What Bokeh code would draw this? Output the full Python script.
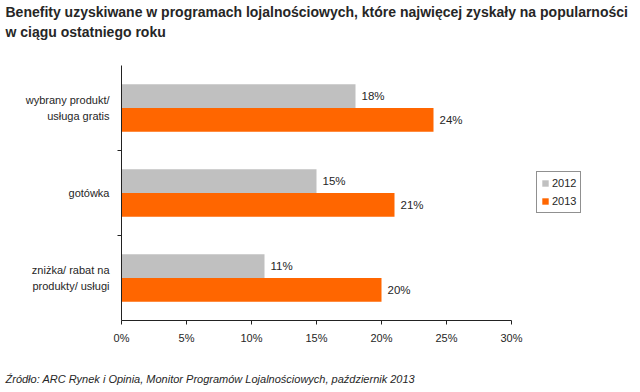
from bokeh.plotting import figure
from bokeh.models import Range1d, FixedTicker, Title, Legend, LegendItem, ColumnDataSource
from bokeh.transform import dodge
from bokeh.embed import file_html
from bokeh.resources import INLINE
from bokeh.core.properties import value

title_line1 = "Benefity uzyskiwane w programach lojalnościowych, które najwięcej zyskały na popularności"
title_line2 = "w ciągu ostatniego roku"
source_text = "Źródło: ARC Rynek i Opinia, Monitor Programów Lojalnościowych, październik 2013"

categories = ["zniżka/ rabat na\nprodukty/ usługi", "gotówka", "wybrany produkt/\nusługa gratis"]
v2012 = [11, 15, 18]
v2013 = [20, 21, 24]
years = ["2012", "2013"]
x_ticks = [0, 5, 10, 15, 20, 25, 30]

FONT = "Liberation Sans"
TXT = "#262626"
GREY = "#C0C0C0"
ORANGE = "#FF6600"

# frame spans page x 121..631; 13 px per percentage point, axis drawn only 0..30
x_end = 510 / 13

centers = [i + 0.5 for i in range(len(categories))]
src = ColumnDataSource(dict(
    y=centers,
    v2012=v2012,
    v2013=v2013,
    l2012=[f"{v}%" for v in v2012],
    l2013=[f"{v}%" for v in v2013],
))

p = figure(width=640, height=392, output_backend="svg", toolbar_location=None,
           x_range=Range1d(0, x_end), y_range=Range1d(0, len(categories)),
           min_border_left=121, min_border_right=9, min_border_top=65, min_border_bottom=72,
           title=None)
p.outline_line_color = None
p.xgrid.grid_line_color = None
p.ygrid.grid_line_color = None
p.background_fill_color = "white"
p.border_fill_color = "white"

bh = 0.28
off = 0.14
r12 = p.hbar(y=dodge("y", off, range=p.y_range), right="v2012", left=0, height=bh,
             source=src, fill_color=GREY, line_color=None)
r13 = p.hbar(y=dodge("y", -off, range=p.y_range), right="v2013", left=0, height=bh,
             source=src, fill_color=ORANGE, line_color=None)

for col, lab, o in (("v2012", "l2012", off), ("v2013", "l2013", -off)):
    p.text(x=col, y=dodge("y", o, range=p.y_range), text=lab, source=src,
           x_offset=6, text_baseline="middle", text_align="left",
           text_font=value(FONT), text_font_size="11.5px", text_color=TXT)

# x axis
xa = p.xaxis[0]
xa.ticker = FixedTicker(ticks=x_ticks, minor_ticks=[])
xa.bounds = (x_ticks[0], x_ticks[-1])
xa.major_label_overrides = {t: f"{t}%" for t in x_ticks}
xa.major_tick_out = 4
xa.major_tick_in = 0
xa.minor_tick_out = 0
xa.minor_tick_in = 0
xa.axis_line_color = "#222222"
xa.major_tick_line_color = "#222222"
xa.major_label_text_font = FONT
xa.major_label_text_font_size = "11px"
xa.major_label_text_color = TXT
xa.major_label_standoff = 7

# y axis: labels at centers, ticks at boundaries
ya = p.yaxis[0]
ya.ticker = FixedTicker(ticks=centers, minor_ticks=list(range(1, len(categories))))
ya.major_label_overrides = {c: cat for c, cat in zip(centers, categories)}
ya.major_tick_out = 0
ya.major_tick_in = 0
ya.minor_tick_out = 4
ya.minor_tick_in = 0
ya.axis_line_color = "#222222"
ya.minor_tick_line_color = "#222222"
ya.major_label_text_font = FONT
ya.major_label_text_font_size = "11px"
ya.major_label_text_color = TXT
ya.major_label_text_line_height = 1.4
ya.major_label_standoff = 8

legend = Legend(items=[LegendItem(label=years[0], renderers=[r12]),
                       LegendItem(label=years[1], renderers=[r13])],
                location=(415, 107), orientation="vertical",
                border_line_color="#222222", border_line_width=1,
                background_fill_color="white", background_fill_alpha=1,
                padding=4, spacing=4, margin=0,
                glyph_width=8, glyph_height=8, label_standoff=3,
                label_height=14, label_width=20,
                label_text_font=FONT, label_text_font_size="11px", label_text_color=TXT)
p.add_layout(legend)

# above panels: innermost first (spacer), then second line, then first line
p.add_layout(Title(text=" ", standoff=20, text_font_size="1px", text_color="white"), "above")
p.add_layout(Title(text=title_line2, align="left", offset=-116, standoff=5,
                   text_font=FONT, text_font_size="14px", text_font_style="bold",
                   text_color=TXT), "above")
p.add_layout(Title(text=title_line1, align="left", offset=-116, standoff=0,
                   text_font=FONT, text_font_size="14px", text_font_style="bold",
                   text_color=TXT), "above")
# below panels: x axis, spacer, source
p.add_layout(Title(text=" ", standoff=20, text_font_size="1px", text_color="white"), "below")
p.add_layout(Title(text=source_text, align="left", offset=-116, standoff=2,
                   text_font=FONT, text_font_size="11px", text_font_style="italic",
                   text_color=TXT), "below")

open("out.html", "w").write(file_html(p, INLINE))
